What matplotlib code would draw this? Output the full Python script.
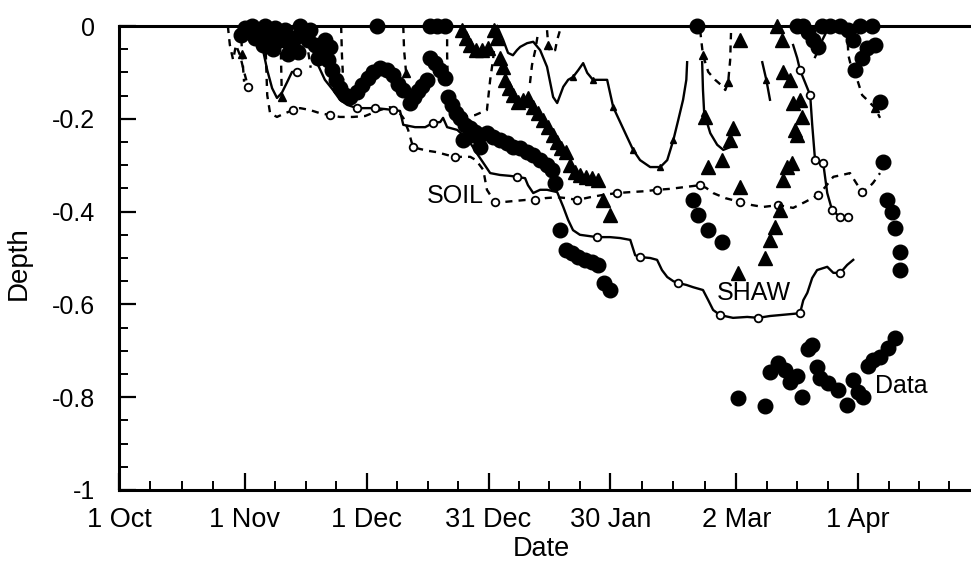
import numpy as np
import matplotlib
matplotlib.use("Agg")
import matplotlib.pyplot as plt

plt.rcParams['font.family'] = ['Liberation Sans', 'DejaVu Sans']

nan = np.nan

# ---------------- data (x = days since 1 Oct, y = depth) ----------------
# Measured frost depth (filled circles)
data_day = [31.0, 32.8, 34.2, 36.0, 37.2, 38.4, 39.7, 40.9, 42.1, 43.3, 44.6, 45.8, 47.0, 48.3,
            49.5, 50.7, 51.5, 52.5, 53.4, 54.4, 55.7, 56.9, 58.6, 59.9, 61.3, 62.6, 64.3, 66.0,
            67.5, 68.7, 70.0, 63.5, 71.7, 72.7, 73.6, 74.6, 75.9, 76.6, 78.3, 80.3, 76.6, 77.8,
            79.1, 80.3, 81.0, 82.0, 83.0, 84.0, 85.2, 86.5, 87.7, 88.9, 90.6, 92.1, 93.8, 95.6,
            97.0, 98.8, 100.5, 102.0, 103.7, 105.4, 106.7, 107.4, 108.6, 110.1, 111.6, 113.1,
            114.8, 116.5, 118.0, 119.5, 120.9, 84.7, 87.2, 88.9,
            142.4, 141.4, 142.6, 145.1, 148.5,
            152.5, 159.1, 160.3, 162.3, 164.0, 165.3, 167.0, 168.2, 169.7, 170.7, 171.9, 172.7,
            174.6, 177.1, 179.3, 180.8, 182.0, 183.3, 184.5, 185.7, 187.4, 189.4, 191.1,
            167.0, 168.5, 169.7, 170.9, 172.2, 173.2, 175.1, 177.6, 179.6, 180.8, 181.3, 182.5,
            183.0, 184.2, 185.5, 186.2, 187.4, 188.2, 189.2, 190.4, 191.1, 192.4, 192.4,
            30.0, 33.5, 35.5, 38.0, 41.5, 44.0, 46.5, 49.0, 52.0]
data_depth = [-0.004, 0.0, -0.009, 0.0, -0.019, -0.004, -0.030, -0.009, -0.041, -0.026, 0.0,
              -0.019, -0.009, -0.041, -0.052, -0.030, -0.073, -0.095, -0.116, -0.134, -0.149,
              -0.153, -0.142, -0.127, -0.112, -0.099, -0.091, -0.095, -0.106, -0.125, -0.138,
              0.0, -0.166, -0.153, -0.140, -0.129, -0.116, 0.0, 0.0, 0.0, -0.069, -0.080,
              -0.095, -0.112, -0.153, -0.170, -0.188, -0.198, -0.213, -0.220, -0.228, -0.235,
              -0.231, -0.239, -0.246, -0.252, -0.261, -0.263, -0.272, -0.278, -0.289, -0.300,
              -0.310, -0.338, -0.440, -0.483, -0.489, -0.498, -0.504, -0.509, -0.515, -0.554,
              -0.569, -0.246, -0.235, -0.261,
              0.0, -0.375, -0.407, -0.440, -0.466,
              -0.802, -0.819, -0.746, -0.726, -0.741, -0.767, -0.754, -0.800, -0.696, -0.688,
              -0.735, -0.759, -0.769, -0.784, -0.817, -0.763, -0.789, -0.800, -0.733, -0.720,
              -0.713, -0.694, -0.672,
              0.0, 0.0, -0.013, -0.030, -0.045, 0.0, 0.0, 0.0, -0.009, -0.030, -0.095, 0.0,
              -0.069, -0.047, 0.0, -0.041, -0.164, -0.293, -0.375, -0.401, -0.435, -0.487, -0.526,
              -0.020, -0.025, -0.040, -0.050, -0.060, -0.055, -0.030, -0.070, -0.045]

# Measured thaw depth (filled triangles)
thaw_day = [84.5, 85.5, 86.5, 87.9, 89.4, 90.9, 92.4, 93.1, 93.8, 94.6, 95.1, 96.1, 97.0, 98.3,
            99.5, 100.7, 102.0, 103.2, 104.4, 105.7, 106.9, 107.9, 108.9, 110.1, 111.1, 112.3,
            113.5, 115.0, 116.5, 118.0, 119.2, 120.9,
            144.3, 145.1, 148.5, 150.5, 151.2, 152.9, 152.9, 152.5, 162.1, 163.3, 163.5, 165.3,
            166.0, 167.7, 168.2, 166.5, 167.0, 165.8, 164.5, 163.5, 162.8, 161.6, 160.3, 159.1]
thaw_depth = [-0.009, -0.026, -0.041, -0.052, -0.052, -0.047, -0.009, -0.026, -0.069, -0.088,
              -0.116, -0.134, -0.149, -0.164, -0.159, -0.155, -0.175, -0.188, -0.203, -0.218,
              -0.235, -0.250, -0.263, -0.272, -0.300, -0.315, -0.321, -0.325, -0.328, -0.332,
              -0.375, -0.407,
              -0.196, -0.304, -0.289, -0.246, -0.220, -0.030, -0.347, -0.532, 0.0, -0.030,
              -0.099, -0.116, -0.166, -0.159, -0.196, -0.224, -0.235, -0.295, -0.304, -0.332,
              -0.397, -0.433, -0.461, -0.500]

# SHAW simulated frost depth (solid line, open circles)
shaw_frost_day = [34.2, 35.2, 36.5, 37.7, 38.9, 40.1, 41.4, 42.6, 43.8, nan,
                  47.8, 49.0, 50.7, 52.7, 54.4, 56.2, 58.6, 60.8, 63.1, 65.5, 67.5, 69.2, 70.0,
                  72.9, 75.4, 77.3, 79.1, 79.8, 80.8, 83.3, 84.7, 86.5, 88.4, 90.1, 91.4, 93.8,
                  96.3, 98.0, 100.0, 100.7, 102.0, 103.7, 105.4, 107.9, 109.4, 110.6, 111.8,
                  113.5, 116.0, 117.7, 120.9, 123.4, 125.9, 127.1, 128.3, 130.8, 132.5, 133.7,
                  135.0, 136.5, 137.7, 139.7, 141.4, 143.8, 145.1, 146.3, 148.0, 151.2, 154.7,
                  157.4, 160.3, 162.8, 167.7, 168.5, 169.5, 170.7, 171.9, 174.4, 175.9, 177.6,
                  179.3, 180.8, nan,
                  166.0, 167.0, 167.7, 169.0, 170.2, 170.7, 171.4, 173.4, 174.4, 175.6, 177.6, 179.6]
shaw_frost_depth = [0.0, -0.041, -0.095, -0.134, -0.155, -0.144, -0.121, -0.099, -0.099, nan,
                    -0.041, -0.084, -0.116, -0.138, -0.159, -0.170, -0.177, -0.177, -0.177,
                    -0.179, -0.181, -0.183, -0.213, -0.218, -0.218, -0.209, -0.207, -0.198,
                    -0.218, -0.224, -0.235, -0.252, -0.278, -0.300, -0.317, -0.321, -0.323,
                    -0.325, -0.328, -0.343, -0.360, -0.353, -0.353, -0.358, -0.390, -0.418,
                    -0.440, -0.450, -0.453, -0.455, -0.455, -0.457, -0.461, -0.494, -0.498,
                    -0.500, -0.504, -0.526, -0.541, -0.550, -0.554, -0.558, -0.563, -0.569,
                    -0.591, -0.612, -0.623, -0.629, -0.627, -0.629, -0.625, -0.623, -0.619,
                    -0.591, -0.575, -0.543, -0.526, -0.519, -0.532, -0.532, -0.515, -0.504, nan,
                    -0.041, -0.069, -0.095, -0.123, -0.149, -0.213, -0.289, -0.295, -0.360,
                    -0.397, -0.412, -0.412]
shaw_frost_marks = [8, 16, 18, 20, 25, 37, 49, 54, 60, 66, 69, 72, 79,
                    85, 87, 89, 90, 92, 93, 94]

# SHAW simulated thaw depth (solid line)
shaw_thaw_day = [93.1, 94.6, 95.8, 97.0, 98.0, 98.8, 100.5, 102.0, 103.7, 105.4, 106.9, 107.9,
                 109.4, 110.6, 111.8, 113.1, 114.3, 115.3, 116.7, 118.5, 120.2, 121.7, 123.4,
                 125.1, 126.6, 128.3, 130.8, 133.3, 135.0, 136.5, 137.7, 138.9, 139.7, 139.9, nan,
                 143.6, 143.8, 144.1, 145.6, 147.3, 148.8, 150.5, nan,
                 158.4, 159.4, 160.3, nan,
                 171.4, 172.2, 173.2, 174.4]
shaw_thaw_depth = [0.0, -0.030, -0.058, -0.063, -0.052, -0.045, -0.037, -0.034, -0.052, -0.088,
                   -0.153, -0.166, -0.131, -0.116, -0.110, -0.095, -0.080, -0.101, -0.116,
                   -0.116, -0.116, -0.175, -0.207, -0.239, -0.267, -0.289, -0.304, -0.304,
                   -0.289, -0.246, -0.203, -0.159, -0.116, -0.078, nan,
                   -0.078, -0.138, -0.188, -0.231, -0.256, -0.267, -0.261, nan,
                   -0.078, -0.116, -0.159, nan,
                   -0.067, -0.052, -0.030, -0.009]
shaw_thaw_marks = [14, 18, 21, 24, 27, 29, 37, 44]

# SOIL simulated frost depth (dashed line, open circles)
soil_frost_day = [26.8, 27.3, 28.1, 28.8, 29.8, 30.8, 31.8, nan,
                  36.0, 36.2, 36.5, 37.2, 38.9, 40.9, 42.9, 44.6, 47.0, 49.5, 52.0, 54.4, 57.6,
                  60.6, 64.3, 66.7, 68.5, 70.0, 71.2, 72.4, 74.1, 76.1, 78.3, 80.8, 82.8, 84.7,
                  86.5, 87.9, 89.7, 90.6, 91.4, 92.6, 95.1, 97.5, 100.0, 102.5, 104.9, 107.9,
                  110.3, 112.8, 116.0, 119.2, 122.7, 125.9, 129.6, 132.5, 135.7, 139.4, 143.1,
                  144.6, 146.3, 149.3, 152.9, 155.9, 158.6, 162.3, 166.0, 169.0, 172.2, 173.9,
                  175.9, 178.1, 180.0, 181.5, 183.0, 184.5, 185.7, 187.4]
soil_frost_depth = [0.0, -0.041, -0.073, -0.041, -0.063, -0.099, -0.131, nan,
                    0.0, -0.073, -0.149, -0.188, -0.196, -0.188, -0.181, -0.177, -0.181, -0.188,
                    -0.192, -0.196, -0.196, -0.194, -0.181, -0.175, -0.181, -0.198, -0.224,
                    -0.261, -0.265, -0.269, -0.272, -0.278, -0.282, -0.282, -0.282, -0.289,
                    -0.310, -0.353, -0.364, -0.379, -0.379, -0.377, -0.375, -0.375, -0.371,
                    -0.369, -0.371, -0.375, -0.369, -0.364, -0.360, -0.358, -0.356, -0.353,
                    -0.351, -0.347, -0.343, -0.349, -0.360, -0.371, -0.379, -0.386, -0.390,
                    -0.386, -0.392, -0.379, -0.364, -0.347, -0.325, -0.321, -0.317, -0.338,
                    -0.358, -0.349, -0.338, -0.317]
soil_frost_marks = [6, 14, 18, 27, 32, 39, 43, 47, 50, 53, 56, 60, 63, 66, 72]

# SOIL simulated thaw depth (dashed line, small triangles)
soil_thaw_day = [30.0, 30.3, 30.8, nan,
                 39.7, 39.9, 40.1, nan,
                 46.0, 46.5, 47.2, nan,
                 54.7, 54.9, 55.2, nan,
                 70.0, 70.2, 70.7, nan,
                 80.8, 80.8, 81.0, 82.8, 84.7, 87.7, 90.6, 91.4, 92.1, 92.6, nan,
                 101.2, 101.7, 102.5, 103.2, nan,
                 105.4, 105.7, 106.2, 107.4, 107.9, 108.6, nan,
                 143.1, 143.8, 145.1, 146.8, 148.5, 149.3, 150.0, 150.5, 150.7, nan,
                 179.3, 179.6, 180.5, 181.8, 183.0, 184.2, 186.2, 187.4]
soil_thaw_depth = [0.0, -0.060, -0.120, nan,
                   0.0, -0.073, -0.153, nan,
                   0.0, -0.050, -0.090, nan,
                   0.0, -0.063, -0.116, nan,
                   0.0, -0.052, -0.101, nan,
                   0.0, -0.063, -0.127, -0.170, -0.196, -0.192, -0.181, -0.116, -0.073, -0.030, nan,
                   -0.123, -0.084, -0.052, -0.015, nan,
                   -0.009, -0.041, -0.056, -0.052, -0.030, -0.009, nan,
                   -0.009, -0.063, -0.099, -0.116, -0.129, -0.138, -0.121, -0.073, -0.015, nan,
                   -0.009, -0.063, -0.095, -0.116, -0.149, -0.159, -0.177, -0.198]
soil_thaw_marks = [1, 6, 18, 20, 37, 44, 49, 59]

xtick_days = [0, 31, 61, 91, 121, 152, 182]
xtick_labels = ['1 Oct', '1 Nov', '1 Dec', '31 Dec', '30 Jan', '2 Mar', '1 Apr']
ytick_vals = [-1.0, -0.8, -0.6, -0.4, -0.2, 0.0]
ytick_labels = ['-1', '-0.8', '-0.6', '-0.4', '-0.2', '0']

# ---------------- figure ----------------
W, H = 971, 561
fig = plt.figure(figsize=(W / 100, H / 100), dpi=100)
ax = fig.add_axes([119 / W, 1 - 490 / H, (971 - 119) / W, (490 - 26) / H])
ax.set_xlim(0, 209.8)
ax.set_ylim(-1, 0)

lw = 1.7
dash = (0, (3.0, 2.6))

def arr(a):
    return np.asarray(a, dtype=float)

# SOIL lines
sfd, sfz = arr(soil_frost_day), arr(soil_frost_depth)
ax.plot(sfd, sfz, color='black', lw=lw, linestyle=dash, clip_on=False, zorder=3)
ax.plot(sfd[soil_frost_marks], sfz[soil_frost_marks], 'o', ms=5.5, mfc='white', mec='black',
        mew=1.3, clip_on=False, zorder=4)
std, stz = arr(soil_thaw_day), arr(soil_thaw_depth)
ax.plot(std, stz, color='black', lw=lw, linestyle=dash, clip_on=False, zorder=3)
ax.plot(std[soil_thaw_marks], stz[soil_thaw_marks], '^', ms=5.5, color='black',
        clip_on=False, zorder=4)

# SHAW lines
hfd, hfz = arr(shaw_frost_day), arr(shaw_frost_depth)
ax.plot(hfd, hfz, color='black', lw=lw, solid_joinstyle='round', clip_on=False, zorder=3)
ax.plot(hfd[shaw_frost_marks], hfz[shaw_frost_marks], 'o', ms=5.5, mfc='white', mec='black',
        mew=1.3, clip_on=False, zorder=4)
htd, htz = arr(shaw_thaw_day), arr(shaw_thaw_depth)
ax.plot(htd, htz, color='black', lw=lw, solid_joinstyle='round', clip_on=False, zorder=3)
ax.plot(htd[shaw_thaw_marks], htz[shaw_thaw_marks], '^', ms=5, color='black',
        clip_on=False, zorder=4)

# measured data
ax.plot(data_day, data_depth, 'o', ms=10.5, color='black', clip_on=False, zorder=5)
ax.plot(thaw_day, thaw_depth, '^', ms=10, color='black', clip_on=False, zorder=5)

# labels
ax.text(82.8, -0.366, 'SOIL', fontsize=18, ha='center', va='center', zorder=6)
ax.text(156.4, -0.575, 'SHAW', fontsize=18, ha='center', va='center', zorder=6)
ax.text(192.6, -0.776, 'Data', fontsize=18, ha='center', va='center', zorder=6)

# axes styling
for side in ['left', 'top', 'bottom']:
    ax.spines[side].set_linewidth(2.2)
ax.spines['right'].set_visible(False)

ax.set_xticks(xtick_days)
ax.set_xticklabels(xtick_labels)
minor_x = []
for a, b in zip(xtick_days[:-1], xtick_days[1:]):
    minor_x += list(np.linspace(a, b, 5)[1:-1])
step = (xtick_days[-1] - xtick_days[-2]) / 4
minor_x += [xtick_days[-1] + step * k for k in (1, 2, 3)]
ax.set_xticks(minor_x, minor=True)

ax.set_yticks(ytick_vals)
ax.set_yticklabels(ytick_labels)
ax.set_yticks(np.arange(-1.0, 0.001, 0.05), minor=True)

ax.tick_params(which='major', direction='in', length=12, width=1.6)
ax.tick_params(which='minor', direction='in', length=6.5, width=1.4)
ax.tick_params(axis='y', which='major', pad=17, labelsize=18)
ax.tick_params(axis='x', which='major', pad=12, labelsize=19.5)
ax.tick_params(right=False, top=False, which='both')

ax.set_xlabel('Date', fontsize=19.5, va='center')
ax.xaxis.set_label_coords((541 - 119) / 852, -(549 - 490) / 464)
ax.set_ylabel('Depth', fontsize=20, va='center')
ax.yaxis.set_label_coords((19 - 119) / 852, 0.49)

fig.savefig('out.png', dpi=100)
